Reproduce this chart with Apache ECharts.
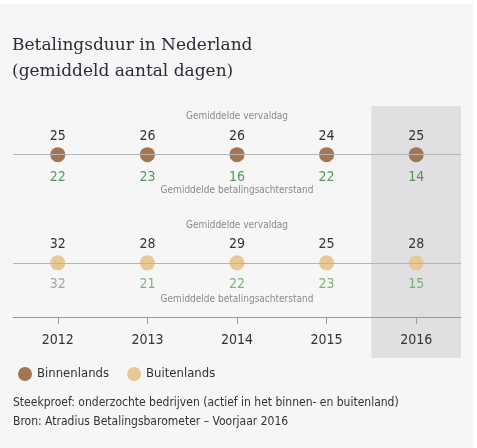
<!DOCTYPE html>
<html><head><meta charset="utf-8">
<script src="https://cdn.jsdelivr.net/npm/echarts@6/dist/echarts.min.js"></script>
<style>
html,body{margin:0;padding:0;background:#ffffff;width:477px;height:448px;overflow:hidden}
#c{position:absolute;left:0;top:4px;width:473px;height:444px;background:#f6f6f6}
</style></head><body><div id="c"></div>
<script>
const years = ['2012','2013','2014','2015','2016'];
const binnenVervaldag = [25, 26, 26, 24, 25];
const binnenAchterstand = [22, 23, 16, 22, 14];
const buitenVervaldag = [32, 28, 29, 25, 28];
const buitenAchterstand = [32, 21, 22, 23, 15];
const highlightYear = '2016';

const ROW_BINNEN = 3, ROW_BUITEN = 1;
const FONT = '"DejaVu Sans Condensed", "Liberation Sans Narrow", "Roboto", sans-serif';
const BROWN = '#a37552', SAND = '#e8c894';

const chart = echarts.init(document.getElementById('c'));

function topSeries(name, vals, row, color) {
  return {
    name, type: 'scatter', symbol: 'circle', symbolSize: 15, z: 3,
    itemStyle: {color, opacity: 1},
    data: years.map((y, i) => ({value: [y, row], v: vals[i]})),
    label: {show: true, position: 'top', distance: 4, fontFamily: FONT, fontSize: 14, color: '#333333',
      formatter: p => String(p.data.v)},
    emphasis: {disabled: true}, silent: true
  };
}
function bottomSeries(name, lateVals, dueVals, row, green, dist) {
  return {
    name: name + '_late', type: 'scatter', symbolSize: 15, z: 2,
    itemStyle: {color: 'rgba(0,0,0,0)'},
    data: years.map((y, i) => ({value: [y, row], v: lateVals[i],
      label: {color: lateVals[i] < dueVals[i] ? green : '#8c8c8c'}})),
    label: {show: true, position: 'bottom', distance: dist, fontFamily: FONT, fontSize: 14,
      formatter: p => String(p.data.v)},
    emphasis: {disabled: true}, silent: true
  };
}

const s1 = topSeries('Binnenlands', binnenVervaldag, ROW_BINNEN, BROWN);
s1.markLine = {silent: true, symbol: 'none', label: {show: false},
  lineStyle: {color: '#b5b5b5', width: 1, type: 'solid'},
  data: [{yAxis: ROW_BINNEN}, {yAxis: ROW_BUITEN}]};

const smallTxt = (y, t) => ({type: 'text', x: 237, y, style: {text: t, textAlign: 'center', textVerticalAlign: 'middle',
  font: '10px ' + FONT, fill: '#8a8a8a'}});

const baseGraphic = [
  {type: 'text', left: 12, top: 29, style: {text: 'Betalingsduur in Nederland\n(gemiddeld aantal dagen)',
    font: '17px "DejaVu Serif", "Liberation Serif", serif', fill: '#2b2b3a', lineHeight: 26}},
  smallTxt(112, 'Gemiddelde vervaldag'),
  smallTxt(186, 'Gemiddelde betalingsachterstand'),
  smallTxt(221, 'Gemiddelde vervaldag'),
  smallTxt(295, 'Gemiddelde betalingsachterstand'),
  {type: 'text', left: 13, top: 389, style: {text: 'Steekproef: onderzochte bedrijven (actief in het binnen- en buitenland)\nBron: Atradius Betalingsbarometer \u2013 Voorjaar 2016',
    font: '12px ' + FONT, fill: '#333333', lineHeight: 19}}
];

chart.setOption({
  animation: false,
  grid: {left: 13, right: 12, top: 102, bottom: 90},
  xAxis: {type: 'category', data: years, offset: -41,
    axisLine: {lineStyle: {color: '#9a9a9a', width: 1}},
    axisTick: {show: true, alignWithLabel: true, length: 7, lineStyle: {color: '#9a9a9a'}},
    axisLabel: {margin: 16, fontFamily: FONT, fontSize: 14, color: '#333333'},
    splitLine: {show: false}},
  yAxis: {type: 'value', min: -0.76, max: 3.9, show: false},
  legend: {left: 13, top: 358, icon: 'circle', itemWidth: 14, itemHeight: 14, itemGap: 18,
    data: ['Binnenlands', 'Buitenlands'], selectedMode: false,
    textStyle: {fontFamily: FONT, fontSize: 13, color: '#333333'}},
  graphic: baseGraphic,
  series: [
    s1,
    topSeries('Buitenlands', buitenVervaldag, ROW_BUITEN, SAND),
    bottomSeries('Binnenlands', binnenAchterstand, binnenVervaldag, ROW_BINNEN, '#2f7f3a', 8),
    bottomSeries('Buitenlands', buitenAchterstand, buitenVervaldag, ROW_BUITEN, '#5fa45f', 7)
  ]
});

// highlight band for the latest year, derived from the category axis scale
const cx = chart.convertToPixel({xAxisIndex: 0}, highlightYear);
const bandW = (473 - 13 - 12) / years.length;
chart.setOption({graphic: baseGraphic.concat([{type: 'rect', z: -1, silent: true,
  shape: {x: cx - bandW / 2, y: 102, width: bandW, height: 252}, style: {fill: '#e0e0e2'}}])});
</script></body></html>
